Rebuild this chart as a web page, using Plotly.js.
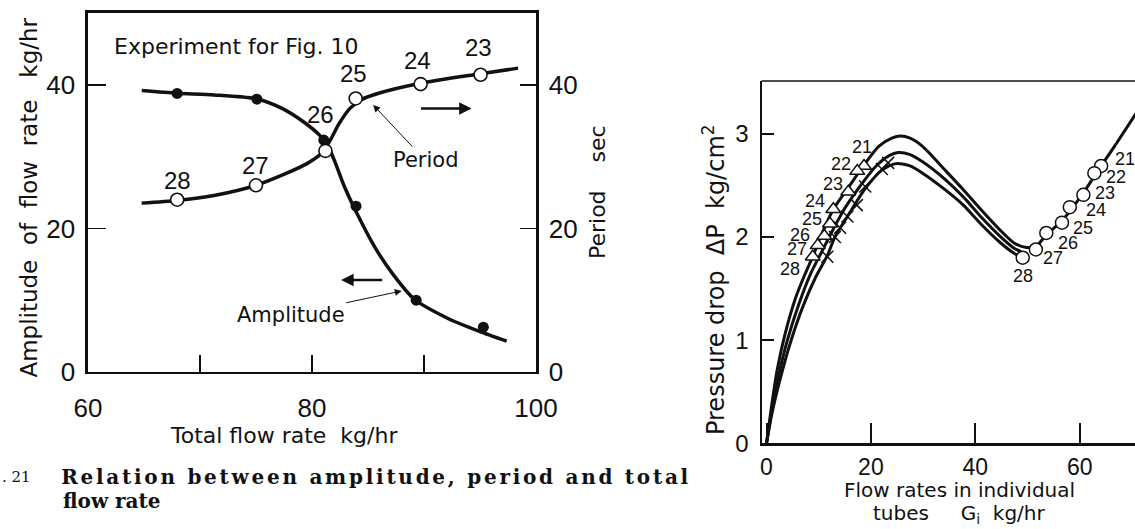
<!DOCTYPE html>
<html>
<head>
<meta charset="utf-8">
<script src="https://cdn.plot.ly/plotly-3.0.1.min.js"></script>
<style>
  html, body { margin: 0; padding: 0; background: #fff; overflow: hidden; }
  #chart { width: 1135px; height: 529px; }
</style>
</head>
<body>
<div id="chart"></div>
<script>
// ---- Left panel: amplitude and period against total flow rate ----
const ampFlow  = [67.96, 75.08, 81.05, 83.93, 89.3, 95.3];
const ampValue = [38.8, 38.0, 32.3, 23.1, 10.0, 6.25];
const ampCurveFlow  = [64.8, 67.96, 71.25, 75.08, 77.32, 79.23, 80.67, 81.47, 82.11, 82.91, 84.03, 85.62, 87.22, 89.14, 92.01, 94.89, 97.38];
const ampCurveValue = [39.2, 38.83, 38.59, 38.03, 36.72, 34.86, 32.99, 31.36, 29.02, 25.76, 22.03, 17.36, 13.63, 10.13, 7.56, 5.69, 4.29];

const periodRuns  = ['28', '27', '26', '25', '24', '23'];
const periodFlow  = [67.96, 75.0, 81.2, 83.9, 89.7, 95.05];
const periodValue = [24.0, 26.0, 30.8, 38.1, 40.1, 41.4];
const periodCurveFlow  = [64.79, 67.96, 71.25, 74.98, 77.64, 79.55, 80.83, 81.63, 82.43, 83.39, 84.35, 85.94, 89.71, 95.05, 98.4];
const periodCurveValue = [23.52, 23.89, 24.59, 25.99, 27.62, 29.02, 30.42, 32.29, 34.62, 36.72, 37.89, 38.82, 40.22, 41.53, 42.32];

const leftXTicks  = [60, 80, 100];
const leftXMinor  = [70, 90];
const leftYTicks  = [0, 20, 40];

// ---- Right panel: pressure drop against flow in individual tubes ----
const runIds = ['21', '22', '23', '24', '25', '26', '27', '28'];
const triFlow  = [18.68, 17.39, 15.67, 12.80, 12.16, 11.07, 9.81, 8.85];
const triDrop  = [2.69, 2.64, 2.44, 2.27, 2.13, 2.01, 1.92, 1.81];
const crossFlow = [23.3, 22.1, 18.9, 17.3, 15.5, 14.1, 13.1, 11.65];
const crossDrop = [2.72, 2.66, 2.49, 2.31, 2.20, 2.09, 2.00, 1.81];
const circFlow = [64.1, 62.8, 60.7, 58.1, 56.6, 53.6, 51.6, 49.08];
const circDrop = [2.69, 2.62, 2.41, 2.29, 2.14, 2.04, 1.88, 1.80];

const upperFlow = [0, 0.8, 2, 3.5, 5.5, 7.2, 8.85, 10.5, 12.8, 15.67, 18.68, 21.5, 24, 25.7, 27.5, 29.9, 34.2, 37.7, 41.2, 44.7, 47.5, 49.8, 51.6, 53.6, 56.6, 60.7, 64.1, 66.4, 70.8];
const upperDrop = [0, 0.3, 0.7, 1.05, 1.4, 1.62, 1.81, 2.02, 2.27, 2.48, 2.7, 2.88, 2.96, 2.98, 2.96, 2.88, 2.65, 2.46, 2.26, 2.07, 1.94, 1.90, 1.91, 2.02, 2.16, 2.43, 2.69, 2.86, 3.2];
const middleFlow = [0, 0.9, 2.3, 4, 6.2, 8.5, 10.5, 12.5, 15, 18, 21, 23.5, 25.2, 27.5, 29.9, 34.2, 37.7, 41.2, 44.7, 47.5, 48.8];
const middleDrop = [0, 0.28, 0.65, 1.0, 1.35, 1.65, 1.85, 2.05, 2.28, 2.5, 2.69, 2.79, 2.82, 2.80, 2.73, 2.56, 2.39, 2.19, 2.01, 1.89, 1.86];
const lowerFlow = [0, 1, 2.6, 4.6, 7, 9.5, 11.65, 13.1, 15.5, 18.9, 22.1, 24.5, 26, 27.5, 29.9, 34.2, 37.7, 41.2, 44.7, 47.5, 49.1];
const lowerDrop = [0, 0.28, 0.62, 0.98, 1.33, 1.62, 1.82, 2.0, 2.2, 2.47, 2.65, 2.71, 2.71, 2.69, 2.62, 2.46, 2.31, 2.12, 1.95, 1.84, 1.80];

const rightXTicks = [0, 20, 40, 60];
const rightYTicks = [0, 1, 2, 3];

// ---- styling ----
const INK = '#111';
const SANS = 'DejaVu Sans, sans-serif';
const NUM = 'Liberation Sans, Arial, sans-serif';
const SERIF = 'DejaVu Serif, serif';

const curve = (x, y, xa, ya, w) => ({
  x, y, xaxis: xa, yaxis: ya, type: 'scatter', mode: 'lines', hoverinfo: 'skip',
  line: { color: INK, width: w, shape: 'spline', smoothing: 0.7 }, showlegend: false
});

const traces = [
  curve(ampCurveFlow, ampCurveValue, 'x', 'y', 3.5),
  curve(periodCurveFlow, periodCurveValue, 'x', 'y2', 3.5),
  { x: ampFlow, y: ampValue, xaxis: 'x', yaxis: 'y', type: 'scatter', mode: 'markers', showlegend: false,
    marker: { symbol: 'circle', size: 11, color: INK } },
  { x: periodFlow, y: periodValue, xaxis: 'x', yaxis: 'y2', type: 'scatter', mode: 'markers', showlegend: false,
    marker: { symbol: 'circle', size: 13, color: '#fff', line: { color: INK, width: 1.6 } } },
  curve(upperFlow, upperDrop, 'x2', 'y3', 3),
  curve(middleFlow, middleDrop, 'x2', 'y3', 3),
  curve(lowerFlow, lowerDrop, 'x2', 'y3', 3),
  { x: crossFlow, y: crossDrop, xaxis: 'x2', yaxis: 'y3', type: 'scatter', mode: 'markers', showlegend: false,
    marker: { symbol: 'x-thin-open', size: 12, color: INK, line: { color: INK, width: 1.5 } } },
  { x: triFlow, y: triDrop, xaxis: 'x2', yaxis: 'y3', type: 'scatter', mode: 'markers', showlegend: false,
    marker: { symbol: 'triangle-up', size: 13, color: '#fff', line: { color: INK, width: 1.5 } } },
  { x: circFlow, y: circDrop, xaxis: 'x2', yaxis: 'y3', type: 'scatter', mode: 'markers', showlegend: false,
    marker: { symbol: 'circle', size: 13, color: '#fff', line: { color: INK, width: 1.5 } } }
];

// point labels, offset in pixels from each marker
const periodLabelShift = [[0, 19], [0, 20], [-5, 36], [-2, 25], [-3, 24], [-2, 27]];
const triLabelShift = [[-2, 19], [-16, 7], [-15, 8], [-18, 8], [-18, 5], [-24, 1], [-21, -4], [-23, -12]];
const circLabelShift = [[24, 7], [22, -4], [22, 2], [26, -3], [21, -5], [22, -10], [17, -9], [0, -18]];

const annotations = [];
const pointLabel = (text, x, y, xr, yr, sh, size) => annotations.push({
  text, x, y, xref: xr, yref: yr, showarrow: false, xshift: sh[0], yshift: sh[1],
  xanchor: 'center', yanchor: 'middle',
  font: { family: NUM, size, color: INK }
});
periodRuns.forEach((r, i) => pointLabel(r, periodFlow[i], periodValue[i], 'x', 'y2', periodLabelShift[i], 24));
runIds.forEach((r, i) => pointLabel(r, triFlow[i], triDrop[i], 'x2', 'y3', triLabelShift[i], 18));
runIds.forEach((r, i) => pointLabel(r, circFlow[i], circDrop[i], 'x2', 'y3', circLabelShift[i], 18));

const note = (text, x, y, xr, yr, size, extra) => annotations.push(Object.assign({
  text, x, y, xref: xr, yref: yr, showarrow: false, xanchor: 'center', yanchor: 'middle',
  font: { family: SANS, size, color: INK }
}, extra || {}));

note('Experiment for Fig. 10', 0.0987, 0.9117, 'paper', 'paper', 22, { xanchor: 'left' });

// curve names with thin leader arrows pointing at their curve
const leader = (text, hx, hy, tx, ty) => annotations.push({
  text, x: hx, y: hy, ax: tx, ay: ty, xref: 'x', yref: 'y', axref: 'x', ayref: 'y',
  showarrow: true, arrowhead: 2, arrowsize: 1.4, arrowwidth: 1, arrowcolor: INK,
  font: { family: SANS, size: 21, color: INK }
});
leader('Period', 85.46, 37.2, 90.1, 29.5);
leader('Amplitude', 88.02, 11.29, 78.1, 8.0);

// heavy arrows telling which axis each curve belongs to
const pointer = (hx, hy, tx, ty) => annotations.push({
  text: '', x: hx, y: hy, ax: tx, ay: ty, xref: 'x', yref: 'y', axref: 'x', ayref: 'y',
  showarrow: true, arrowhead: 2, arrowsize: 1, arrowwidth: 2.5, arrowcolor: INK
});
pointer(94.25, 36.7, 89.6, 36.7);
pointer(82.6, 12.8, 86.4, 12.8);

// axis titles
note('Amplitude\u00a0 of\u00a0 flow\u00a0 rate\u00a0\u00a0 kg/hr', 0.0252, 0.6257, 'paper', 'paper', 23, { textangle: -90 });
note('Period\u00a0\u00a0\u00a0\u00a0sec', 0.526, 0.637, 'paper', 'paper', 22, { textangle: -90 });
note('Total flow rate\u00a0\u00a0kg/hr', 0.2502, 0.176, 'paper', 'paper', 22);
note('Pressure drop\u00a0\u00a0ΔP\u00a0\u00a0kg/cm<sup>2</sup>', 0.6291, 0.4707, 'paper', 'paper', 24, { textangle: -90 });
note('Flow rates in individual', 0.845, 0.0737, 'paper', 'paper', 20);
note('tubes\u00a0\u00a0\u00a0\u00a0\u00a0G<sub>i</sub>\u00a0\u00a0kg/hr', 0.845, 0.0284, 'paper', 'paper', 20);

// caption (first line is set justified across the column)
annotations.push({ text: '. 21', x: 0, y: 0.0983, xref: 'paper', yref: 'paper', xanchor: 'left', yanchor: 'middle',
  showarrow: false, font: { family: SERIF, size: 15, color: INK } });
annotations.push({ text: 'Relation between amplitude, period and total', x: 374.5 / 1135, y: 0.0983,
  xref: 'paper', yref: 'paper', xanchor: 'center', yanchor: 'middle', showarrow: false,
  font: { family: SERIF, size: 20, color: INK, weight: 'bold' } });
annotations.push({ text: 'flow rate', x: 0.0537, y: 0.0529,
  xref: 'paper', yref: 'paper', xanchor: 'left', yanchor: 'middle', showarrow: false,
  font: { family: SERIF, size: 20, color: INK, weight: 'bold' } });

const axisBase = {
  showgrid: false, zeroline: false, showline: true, linecolor: INK, ticks: 'inside',
  tickcolor: INK, fixedrange: true
};

const layout = {
  width: 1135, height: 529, autosize: false,
  margin: { l: 0, r: 0, t: 0, b: 0 },
  paper_bgcolor: '#fff', plot_bgcolor: 'rgba(0,0,0,0)',
  showlegend: false,
  xaxis: Object.assign({}, axisBase, {
    domain: [0.07753, 0.47225], range: [60, 100], anchor: 'y',
    tickvals: leftXTicks, ticktext: leftXTicks.map(String), ticklen: 17, tickwidth: 1.5,
    minor: { tickvals: leftXMinor, ticks: 'inside', ticklen: 17, tickwidth: 1.5, tickcolor: INK, showgrid: false },
    linewidth: 2.5, mirror: true, ticklabelstandoff: 11,
    tickfont: { family: NUM, size: 26, color: INK }
  }),
  yaxis: Object.assign({}, axisBase, {
    domain: [0.29679, 0.97543], range: [0, 50], anchor: 'x',
    tickvals: leftYTicks, ticktext: leftYTicks.map(String), ticklen: 18, tickwidth: 1.5,
    linewidth: 2.5, ticklabelstandoff: 5,
    tickfont: { family: NUM, size: 26, color: INK }
  }),
  yaxis2: Object.assign({}, axisBase, {
    overlaying: 'y', side: 'right', range: [0, 50], anchor: 'x',
    tickvals: leftYTicks, ticktext: leftYTicks.map(String), ticklen: 16, tickwidth: 1.5,
    linewidth: 2.5, ticklabelstandoff: 5,
    tickfont: { family: NUM, size: 26, color: INK }
  }),
  xaxis2: Object.assign({}, axisBase, {
    domain: [0.67093, 1], range: [-0.96, 70.59], anchor: 'y3',
    tickvals: rightXTicks, ticktext: rightXTicks.map(String), ticklen: 20, tickwidth: 2,
    linewidth: 3, ticklabelstandoff: 1,
    tickfont: { family: NUM, size: 23, color: INK }
  }),
  yaxis3: Object.assign({}, axisBase, {
    domain: [0.1620, 0.8469], range: [0, 3.514], anchor: 'x2',
    tickvals: rightYTicks, ticktext: rightYTicks.map(String), ticklen: 12, tickwidth: 1.5,
    linewidth: 2, ticklabelstandoff: 6,
    tickfont: { family: NUM, size: 24, color: INK }
  }),
  shapes: [
    { type: 'line', xref: 'paper', yref: 'paper', x0: 0.67093, x1: 1, y0: 0.8469, y1: 0.8469,
      line: { color: INK, width: 1.5 } }
  ],
  annotations
};

Plotly.newPlot('chart', traces, layout, { staticPlot: true, displayModeBar: false }).then(gd => {
  // spread the first caption line to the full column width (61px .. 688px)
  gd.querySelectorAll('text.annotation-text').forEach(t => {
    if (t.textContent.indexOf('Relation') === 0) {
      t.setAttribute('textLength', '627');
      t.setAttribute('lengthAdjust', 'spacing');
    }
  });
});
</script>
</body>
</html>
